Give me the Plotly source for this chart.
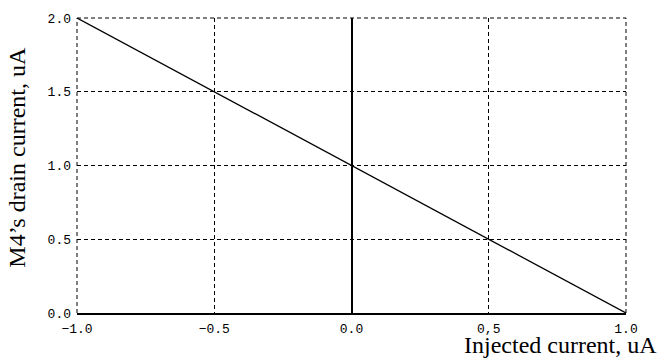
import plotly.graph_objects as go

# Data
injected_current = [-1.0, -0.5, 0.0, 0.5, 1.0]
drain_current = [2.0, 1.5, 1.0, 0.5, 0.0]

x_tickvals = [-1.0, -0.5, 0.0, 0.5, 1.0]
x_ticktext = ["\u22121.0", "\u22120.5", "0.0", "0,5", "1.0"]
y_tickvals = [0.0, 0.5, 1.0, 1.5, 2.0]
y_ticktext = ["0.0", "0.5", "1.0", "1.5", "2.0"]

x_title = "Injected current, uA"
y_title = "M4\u2019s drain current, uA"

fig = go.Figure()
fig.add_trace(go.Scatter(
    x=injected_current, y=drain_current, mode="lines",
    line=dict(color="black", width=1.3), showlegend=False, hoverinfo="skip"))

tickfont = dict(family="Liberation Mono, DejaVu Sans Mono, monospace", size=13, color="black")
titlefont = dict(family="Liberation Serif, Times New Roman, serif", size=24, color="black")
dash = "4px,3px"

fig.update_layout(
    width=663, height=363,
    margin=dict(l=77, r=37, t=14, b=50),
    paper_bgcolor="white", plot_bgcolor="white",
    xaxis=dict(
        range=[-1.0, 1.0], tickvals=x_tickvals, ticktext=x_ticktext,
        showgrid=True, gridcolor="black", gridwidth=1, griddash=dash,
        zeroline=True, zerolinecolor="black", zerolinewidth=1.6,
        showline=True, linecolor="black", linewidth=1.6,
        ticks="", tickfont=tickfont, ticklabelstandoff=3,
    ),
    yaxis=dict(
        range=[0.0, 2.0], tickvals=y_tickvals, ticktext=y_ticktext,
        showgrid=True, gridcolor="black", gridwidth=1, griddash=dash,
        zeroline=False, showline=False,
        ticks="", tickfont=tickfont, ticklabelstandoff=5,
    ),
    shapes=[
        # dashed frame lines at the plot edges (grid lines at range ends)
        dict(type="line", xref="paper", yref="paper", x0=0, x1=1, y0=1, y1=1,
             line=dict(color="black", width=1, dash=dash)),
        dict(type="line", xref="paper", yref="paper", x0=0, x1=0, y0=0, y1=1,
             line=dict(color="black", width=1, dash=dash)),
        dict(type="line", xref="paper", yref="paper", x0=1, x1=1, y0=0, y1=1,
             line=dict(color="black", width=1, dash=dash)),
    ],
    annotations=[
        dict(text=x_title, xref="paper", yref="paper", x=1.06, y=-0.107,
             xanchor="right", yanchor="middle", showarrow=False, font=titlefont),
        dict(text=y_title, xref="paper", yref="paper", x=-0.1093, y=0.53,
             xanchor="center", yanchor="middle", textangle=-90, showarrow=False,
             font=titlefont),
    ],
)

fig.write_html("out.html")
